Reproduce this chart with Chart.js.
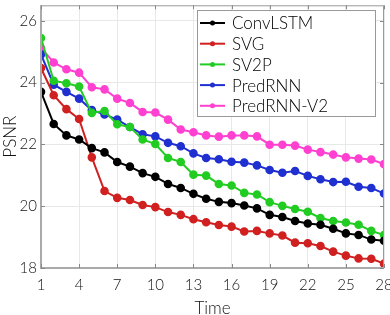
<!DOCTYPE html>
<html>
<head>
<meta charset="utf-8">
<script src="https://cdn.jsdelivr.net/npm/chart.js@4"></script>
<style>
  html, body { margin: 0; padding: 0; background: #fff; }
  #wrap { width: 390px; height: 315px; }
</style>
</head>
<body>
<div id="wrap"><canvas id="psnrChart" width="390" height="315"></canvas></div>
<script>
// time steps 1..28
const timeSteps = [1,2,3,4,5,6,7,8,9,10,11,12,13,14,15,16,17,18,19,20,21,22,23,24,25,26,27,28];
const xTicks = [1, 4, 7, 10, 13, 16, 19, 22, 25, 28];
const yTicks = [18, 20, 22, 24, 26];

const seriesNames = ['ConvLSTM', 'SVG', 'SV2P', 'PredRNN', 'PredRNN-V2'];
const convLSTM = [23.70,22.66,22.29,22.16,21.88,21.74,21.43,21.28,21.07,20.95,20.72,20.59,20.40,20.24,20.14,20.10,20.02,19.93,19.72,19.65,19.52,19.44,19.40,19.27,19.12,19.07,18.92,18.88];
const svg = [24.47,23.59,23.14,22.82,21.58,20.49,20.27,20.20,20.04,19.97,19.81,19.72,19.58,19.48,19.39,19.34,19.18,19.20,19.12,19.05,18.82,18.80,18.71,18.53,18.40,18.31,18.30,18.14];
const sv2p = [25.44,24.06,23.98,23.87,23.02,23.08,22.65,22.56,22.16,22.01,21.56,21.43,21.02,20.99,20.72,20.67,20.43,20.38,20.13,20.01,19.91,19.82,19.62,19.52,19.47,19.40,19.20,19.07];
const predRNN = [24.91,23.93,23.70,23.48,23.11,22.97,22.80,22.56,22.33,22.26,22.05,21.94,21.71,21.56,21.52,21.44,21.41,21.32,21.17,21.08,21.14,20.98,20.87,20.78,20.79,20.63,20.59,20.41];
const predRNNV2 = [25.12,24.65,24.43,24.32,23.85,23.78,23.48,23.34,23.05,23.03,22.80,22.48,22.39,22.29,22.25,22.29,22.29,22.26,21.99,21.99,21.96,21.83,21.75,21.67,21.58,21.54,21.51,21.36];

const seriesValues = [convLSTM, svg, sv2p, predRNN, predRNNV2];
const seriesColors = ['#000000', '#d02020', '#22cc22', '#2030d0', '#ff40d0'];

const FONT = 'Lato, "DejaVu Sans", sans-serif';

// 그림 틀 + 안쪽 눈금 + 범례
const framePlugin = {
    id: 'frame',
    afterDraw(chart) {
        const { ctx, chartArea: a, scales } = chart;
        ctx.save();
        ctx.strokeStyle = '#9a9a9a';
        ctx.lineWidth = 1;
        ctx.strokeRect(a.left + 0.5, a.top + 0.5, a.right - a.left - 1, a.bottom - a.top);
        ctx.lineWidth = 2;
        ctx.strokeStyle = '#aaaaaa';
        ctx.beginPath();
        ctx.moveTo(a.left, a.top);
        ctx.lineTo(a.left, a.bottom);
        ctx.lineTo(a.right, a.bottom);
        ctx.stroke();
        ctx.lineWidth = 1;
        ctx.strokeStyle = '#888888';
        ctx.beginPath();
        xTicks.forEach(v => {
            const px = Math.round(scales.x.getPixelForValue(v)) + 0.5;
            ctx.moveTo(px, a.bottom); ctx.lineTo(px, a.bottom - 4);
            ctx.moveTo(px, a.top); ctx.lineTo(px, a.top + 4);
        });
        yTicks.forEach(v => {
            const py = Math.round(scales.y.getPixelForValue(v)) + 0.5;
            ctx.moveTo(a.left, py); ctx.lineTo(a.left + 4, py);
            ctx.moveTo(a.right, py); ctx.lineTo(a.right - 4, py);
        });
        ctx.stroke();

        // legend box
        const lx = 197, ly = 10, lw = 178, lh = 106;
        ctx.fillStyle = '#ffffff';
        ctx.fillRect(lx, ly, lw, lh);
        ctx.strokeStyle = '#999999';
        ctx.strokeRect(lx + 0.5, ly + 0.5, lw, lh);
        ctx.font = '300 17px ' + FONT;
        ctx.textBaseline = 'middle';
        seriesNames.forEach((name, i) => {
            const cy = 23 + i * 20.7;
            ctx.strokeStyle = seriesColors[i];
            ctx.fillStyle = seriesColors[i];
            ctx.lineWidth = 2;
            ctx.beginPath();
            ctx.moveTo(200, cy); ctx.lineTo(225, cy);
            ctx.stroke();
            ctx.beginPath();
            ctx.arc(212.5, cy, 2.5, 0, Math.PI * 2);
            ctx.fill();
            ctx.fillStyle = '#000000';
            ctx.fillText(name, 232, cy + 1);
        });
        ctx.restore();
    }
};

const ctx = document.getElementById('psnrChart').getContext('2d');
new Chart(ctx, {
    type: 'line',
    data: {
        datasets: seriesNames.map((name, i) => ({
            label: name,
            data: timeSteps.map((t, j) => ({ x: t, y: seriesValues[i][j] })),
            borderColor: seriesColors[i],
            backgroundColor: seriesColors[i],
            borderWidth: 2,
            pointRadius: 3.3,
            pointHoverRadius: 3.3,
            tension: 0
        }))
    },
    options: {
        responsive: false,
        animation: false,
        layout: { padding: { top: 3, right: 6, left: 0, bottom: 0 } },
        plugins: {
            legend: { display: false },
            tooltip: { enabled: false }
        },
        scales: {
            x: {
                type: 'linear',
                min: 1,
                max: 28,
                afterBuildTicks: s => { s.ticks = xTicks.map(v => ({ value: v })); },
                afterFit: s => { s.height = 47; s.paddingLeft = 0; s.paddingRight = 0; },
                grid: { color: '#e8e8e8', drawTicks: false },
                border: { display: false },
                ticks: { color: '#111', font: { family: FONT, size: 15, weight: '300' }, padding: 8, maxRotation: 0 },
                title: { display: true, text: 'Time', color: '#111', font: { family: FONT, size: 17, weight: '300' }, padding: { top: 0, bottom: -4 } }
            },
            y: {
                min: 18,
                max: 26.5,
                afterBuildTicks: s => { s.ticks = yTicks.map(v => ({ value: v })); },
                afterFit: s => { s.width = 41; s.paddingTop = 0; s.paddingBottom = 0; },
                grid: { color: '#e8e8e8', drawTicks: false },
                border: { display: false },
                ticks: { color: '#111', font: { family: FONT, size: 15, weight: '300' }, padding: 4 },
                title: { display: true, text: 'PSNR', color: '#111', font: { family: FONT, size: 17, weight: '300' }, padding: { top: 0, bottom: 0 } }
            }
        }
    },
    plugins: [framePlugin]
});
</script>
</body>
</html>
